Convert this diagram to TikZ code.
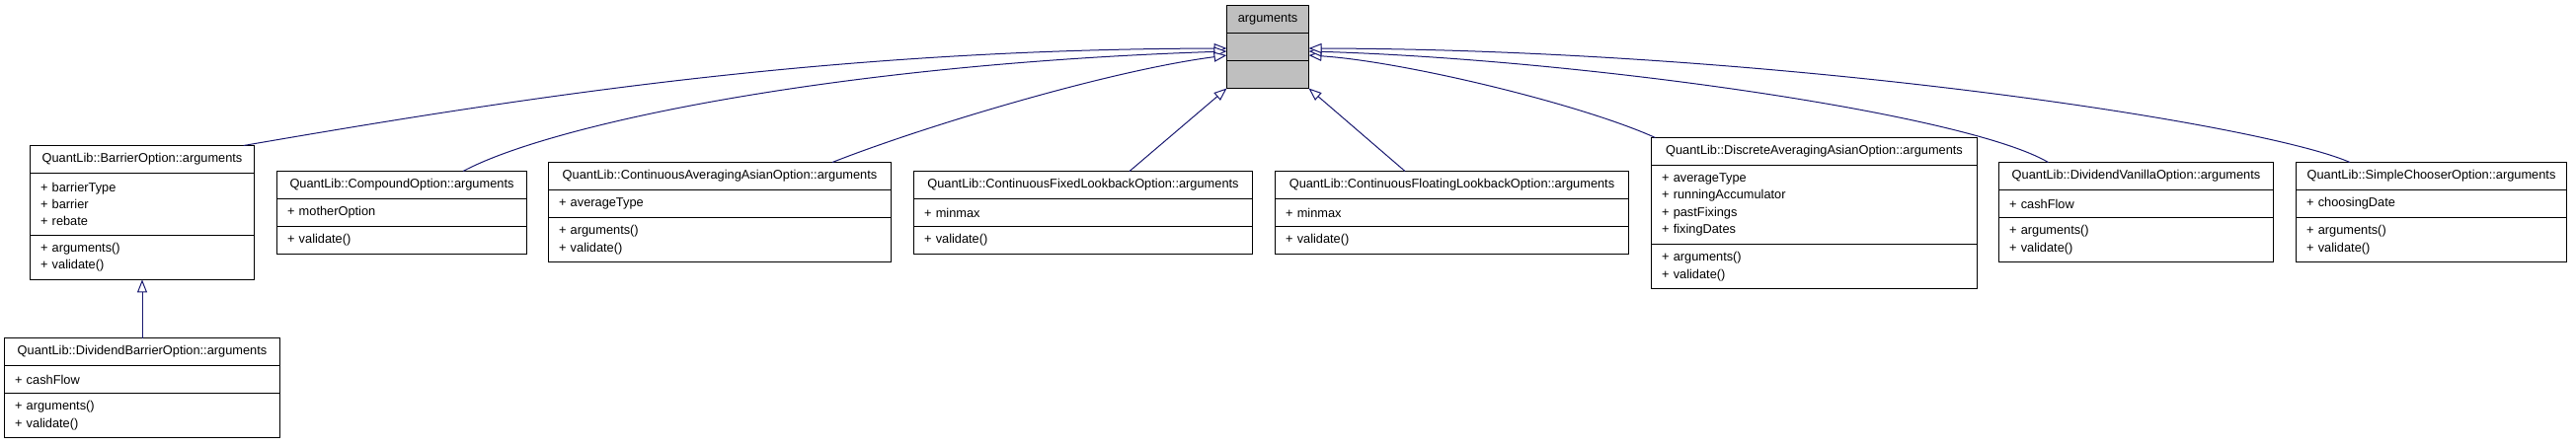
\documentclass[tikz,border=0pt]{standalone}
\usepackage{fontspec}
\setmainfont{Liberation Sans}
\usetikzlibrary{positioning, arrows.meta}
\definecolor{edgeblue}{RGB}{25, 25, 112}
\definecolor{basegray}{RGB}{191, 191, 191}
\tikzset{
    classbox/.style={draw=black, line width=1.2pt, fill=white, outer sep=0pt, inner ysep=0pt, font=\fontsize{12.8}{17.3}\selectfont},
    classname/.style={classbox, minimum width=#1, minimum height=28pt, inner xsep=2pt, align=center},
    members/.style={classbox, text width=#1, inner xsep=10.5pt, align=left},
    rows/.style={minimum height={10.7pt+17.3pt*#1}},
    basenode/.style={classname=83pt, fill=basegray},
    inherit/.style={draw=edgeblue, line width=1pt, -{Triangle[length=13pt, width=10pt, fill=white]}}
}

\begin{document}
\begin{tikzpicture}[x=1pt, y=-1pt]
    \useasboundingbox (0,0) rectangle (2609,451);
    % base class
    \node[basenode, anchor=north] (args) at (1284,5.5) {arguments};
    \node[basenode, below=0pt of args] (argsattr) {};
    \node[basenode, below=0pt of argsattr] (argsops) {};
    % derived classes
    \node[classname=227pt, anchor=north] (barrier) at (144,147.5) {QuantLib::BarrierOption::arguments};
    \node[members=206pt, rows=3, below=0pt of barrier] (barrierattr) {+ barrierType\\+ barrier\\+ rebate};
    \node[members=206pt, rows=2, below=0pt of barrierattr] (barrierops) {+ arguments()\\+ validate()};

    \node[classname=279pt, anchor=north] (divbarrier) at (144,342.5) {QuantLib::DividendBarrierOption::arguments};
    \node[members=258pt, rows=1, below=0pt of divbarrier] (divbarrierattr) {+ cashFlow};
    \node[members=258pt, rows=2, below=0pt of divbarrierattr] (divbarrierops) {+ arguments()\\+ validate()};

    \node[classname=253pt, anchor=north] (compound) at (407,173.5) {QuantLib::CompoundOption::arguments};
    \node[members=232pt, rows=1, below=0pt of compound] (compoundattr) {+ motherOption};
    \node[members=232pt, rows=1, below=0pt of compoundattr] (compoundops) {+ validate()};

    \node[classname=347pt, anchor=north] (contavg) at (729,164.5) {QuantLib::ContinuousAveragingAsianOption::arguments};
    \node[members=326pt, rows=1, below=0pt of contavg] (contavgattr) {+ averageType};
    \node[members=326pt, rows=2, below=0pt of contavgattr] (contavgops) {+ arguments()\\+ validate()};

    \node[classname=343pt, anchor=north] (contfixed) at (1097,173.5) {QuantLib::ContinuousFixedLookbackOption::arguments};
    \node[members=322pt, rows=1, below=0pt of contfixed] (contfixedattr) {+ minmax};
    \node[members=322pt, rows=1, below=0pt of contfixedattr] (contfixedops) {+ validate()};

    \node[classname=358pt, anchor=north] (contfloat) at (1470.5,173.5) {QuantLib::ContinuousFloatingLookbackOption::arguments};
    \node[members=337pt, rows=1, below=0pt of contfloat] (contfloatattr) {+ minmax};
    \node[members=337pt, rows=1, below=0pt of contfloatattr] (contfloatops) {+ validate()};

    \node[classname=330pt, anchor=north] (discrete) at (1837.5,139.5) {QuantLib::DiscreteAveragingAsianOption::arguments};
    \node[members=309pt, rows=4, below=0pt of discrete] (discreteattr) {+ averageType\\+ runningAccumulator\\+ pastFixings\\+ fixingDates};
    \node[members=309pt, rows=2, below=0pt of discreteattr] (discreteops) {+ arguments()\\+ validate()};

    \node[classname=278pt, anchor=north] (divvanilla) at (2163.5,164.5) {QuantLib::DividendVanillaOption::arguments};
    \node[members=257pt, rows=1, below=0pt of divvanilla] (divvanillaattr) {+ cashFlow};
    \node[members=257pt, rows=2, below=0pt of divvanillaattr] (divvanillaops) {+ arguments()\\+ validate()};

    \node[classname=274pt, anchor=north] (chooser) at (2462.5,164.5) {QuantLib::SimpleChooserOption::arguments};
    \node[members=253pt, rows=1, below=0pt of chooser] (chooserattr) {+ choosingDate};
    \node[members=253pt, rows=2, below=0pt of chooserattr] (chooserops) {+ arguments()\\+ validate()};

    % inheritance
    \draw[inherit] (divbarrier.north) -- (barrierops.south);
    \draw[inherit] ([xshift=-10.8pt]barrier.north east) .. controls (550,95) and (850,50) .. ([yshift=-1.5pt]argsattr.west);
    \draw[inherit] ([xshift=62pt]compound.north) .. controls (560,125) and (850,65) .. ([yshift=-4.5pt]argsattr.west);
    \draw[inherit] ([xshift=114pt]contavg.north) .. controls (930,130) and (1120,72) .. ([yshift=-8.5pt]argsattr.west);
    \draw[inherit] ([xshift=47pt]contfixed.north) -- (argsops.south west);
    \draw[inherit] ([xshift=-47.5pt]contfloat.north) -- (argsops.south east);
    \draw[inherit] ([xshift=4pt]discrete.north west) .. controls (1600,105) and (1420,62) .. ([yshift=-8.5pt]argsattr.east);
    \draw[inherit] ([xshift=-89pt]divvanilla.north) .. controls (1990,115) and (1600,60) .. ([yshift=-4.5pt]argsattr.east);
    \draw[inherit] ([xshift=-82.5pt]chooser.north) .. controls (2290,125) and (1800,50) .. ([yshift=-1.5pt]argsattr.east);
\end{tikzpicture}
\end{document}
